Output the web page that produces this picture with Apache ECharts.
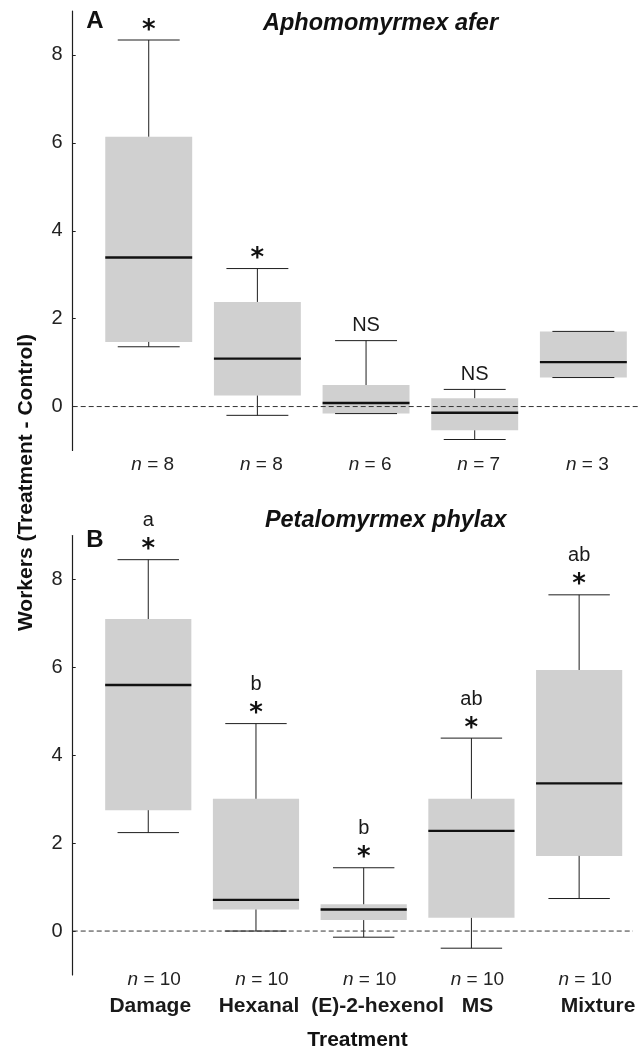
<!DOCTYPE html>
<html>
<head>
<meta charset="utf-8">
<script src="https://cdn.jsdelivr.net/npm/echarts@6/dist/echarts.min.js"></script>
<style>
  html, body { margin: 0; padding: 0; background: #fff; }
  #chart { width: 638px; height: 1054px; }
</style>
</head>
<body>
<div id="chart"></div>
<script>
// ---------- data ----------
const categories = ['Damage', 'Hexanal', '(E)-2-hexenol', 'MS', 'Mixture'];
const yTicks = [0, 2, 4, 6, 8];

// Panel A: Aphomomyrmex afer
const aLow  = [1.36, -0.20, -0.16, -0.75, 0.66];
const aQ1   = [1.47,  0.25, -0.16, -0.54, 0.66];
const aMed  = [3.39,  1.09,  0.08, -0.14, 1.01];
const aQ3   = [6.14,  2.38,  0.49,  0.19, 1.71];
const aHigh = [8.34,  3.14,  1.50,  0.39, 1.71];
const aSig  = ['*', '*', 'NS', 'NS', ''];
const aLetters = ['', '', '', '', ''];
const aN    = [8, 8, 6, 7, 3];

// Panel B: Petalomyrmex phylax
const bLow  = [2.24, 0.00, -0.14, -0.39, 0.74];
const bQ1   = [2.75, 0.49,  0.25,  0.30, 1.71];
const bMed  = [5.60, 0.71,  0.49,  2.28, 3.36];
const bQ3   = [7.10, 3.01,  0.61,  3.01, 5.94];
const bHigh = [8.45, 4.72,  1.44,  4.39, 7.65];
const bSig  = ['*', '*', '*', '*', '*'];
const bLetters = ['a', 'b', 'b', 'ab', 'ab'];
const bN    = [10, 10, 10, 10, 10];

// ---------- layout / style (not data) ----------
const FONT = '"Liberation Sans", Arial, Helvetica, sans-serif';
const gridLeft = 94.4, gridWidth = 543.3, gridH = 439.5;
const axisOffset = 21.7;
const labelShiftB = [4, 6, 28, 12, 38]; // rich padding to nudge category names

function boxSeries(idx, low, q1, med, q3, high, sig, letters) {
  return {
    type: 'custom',
    xAxisIndex: idx, yAxisIndex: idx,
    clip: false,
    z: 2,
    data: categories.map((c, i) => [i, low[i], q1[i], med[i], q3[i], high[i]]),
    encode: { x: 0, y: [1, 2, 3, 4, 5] },
    renderItem: function (params, api) {
      const i = api.value(0);
      const cx = api.coord([i, api.value(3)])[0];
      const band = api.size([1, 0])[0];
      const bw = band * 0.8, cw = band * 0.57;
      const yLow = api.coord([i, api.value(1)])[1];
      const yQ1 = api.coord([i, api.value(2)])[1];
      const yMed = api.coord([i, api.value(3)])[1];
      const yQ3 = api.coord([i, api.value(4)])[1];
      const yHigh = api.coord([i, api.value(5)])[1];
      const lineStyle = { stroke: '#1e1e1e', lineWidth: 1 };
      const children = [
        { type: 'rect', shape: { x: cx - bw / 2, y: yQ3, width: bw, height: yQ1 - yQ3 },
          style: { fill: '#d0d0d0' } },
        { type: 'line', shape: { x1: cx, y1: yQ3, x2: cx, y2: yHigh }, style: lineStyle },
        { type: 'line', shape: { x1: cx - cw / 2, y1: yHigh, x2: cx + cw / 2, y2: yHigh }, style: lineStyle },
        { type: 'line', shape: { x1: cx, y1: yQ1, x2: cx, y2: yLow }, style: lineStyle },
        { type: 'line', shape: { x1: cx - cw / 2, y1: yLow, x2: cx + cw / 2, y2: yLow }, style: lineStyle },
        { type: 'line', shape: { x1: cx - bw / 2, y1: yMed, x2: cx + bw / 2, y2: yMed },
          style: { stroke: '#111', lineWidth: 2.4 } }
      ];
      const s = sig[params.dataIndex];
      if (s === '*') {
        children.push({ type: 'text', x: cx, y: yHigh - 9.2,
          style: { text: '*', fill: '#111', font: 'bold 26px "DejaVu Sans"', align: 'center', verticalAlign: 'middle' } });
      } else if (s) {
        children.push({ type: 'text', x: cx, y: yHigh - 15.4,
          style: { text: s, fill: '#1a1a1a', font: '20px ' + FONT, align: 'center', verticalAlign: 'middle' } });
      }
      const l = letters[params.dataIndex];
      if (l) {
        children.push({ type: 'text', x: cx, y: yHigh - 39,
          style: { text: l, fill: '#1a1a1a', font: '20px ' + FONT, align: 'center', verticalAlign: 'middle' } });
      }
      return { type: 'group', children: children };
    }
  };
}

function zeroSeries(idx) {
  return {
    type: 'custom',
    xAxisIndex: idx, yAxisIndex: idx,
    clip: false,
    z: 5,
    data: [[0, 0]],
    renderItem: function (params, api) {
      const y = api.coord([0, 0])[1];
      const cs = params.coordSys;
      return { type: 'line',
        shape: { x1: cs.x - axisOffset, y1: y, x2: cs.x + cs.width, y2: y },
        style: { stroke: '#333', lineWidth: 1, lineDash: [5, 3] } };
    }
  };
}

function yAxisDef(idx) {
  return {
    type: 'value', gridIndex: idx, min: -1, max: 9, offset: axisOffset,
    axisLine: { show: true, lineStyle: { color: '#1e1e1e', width: 1.2 } },
    axisTick: { show: true, inside: true, length: 3, customValues: yTicks, lineStyle: { color: '#1e1e1e' } },
    axisLabel: { customValues: yTicks, margin: 10, fontSize: 20, color: '#222', fontFamily: FONT },
    splitLine: { show: false }
  };
}

const chart = echarts.init(document.getElementById('chart'), null, { renderer: 'canvas' });

chart.setOption({
  animation: false,
  backgroundColor: '#fff',
  grid: [
    { left: gridLeft, width: gridWidth, top: 11, height: gridH },
    { left: gridLeft, width: gridWidth, top: 535.5, height: gridH }
  ],
  xAxis: [
    {
      type: 'category', gridIndex: 0, data: categories, boundaryGap: true,
      axisLine: { show: false }, axisTick: { show: false },
      axisLabel: {
        interval: 0, margin: 4, color: '#222', fontFamily: FONT, fontSize: 19,
        formatter: function (v, i) { return '{n|n} = ' + aN[i]; },
        rich: { n: { fontStyle: 'italic', fontSize: 19, fontFamily: FONT, color: '#222', padding: [0, 0, 0, 8], lineHeight: 20 } },
        lineHeight: 20
      }
    },
    {
      type: 'category', gridIndex: 1, data: categories, boundaryGap: true,
      axisLine: { show: false }, axisTick: { show: false },
      axisLabel: {
        interval: 0, margin: -5.3, color: '#222', fontFamily: FONT, fontSize: 19,
        formatter: function (v, i) { return '{n|n}{e| = ' + bN[i] + '}\n{c' + i + '|' + v + '}'; },
        rich: {
          n: { fontStyle: 'italic', fontSize: 19, fontFamily: FONT, color: '#222', padding: [0, 0, 0, 12], lineHeight: 20 },
          e: { fontSize: 19, fontFamily: FONT, color: '#222', lineHeight: 20 },
          c0: { fontWeight: 'bold', fontSize: 21, fontFamily: FONT, color: '#1a1a1a', lineHeight: 32.2, padding: [0, 0, 0, labelShiftB[0]] },
          c1: { fontWeight: 'bold', fontSize: 21, fontFamily: FONT, color: '#1a1a1a', lineHeight: 32.2, padding: [0, 0, 0, labelShiftB[1]] },
          c2: { fontWeight: 'bold', fontSize: 21, fontFamily: FONT, color: '#1a1a1a', lineHeight: 32.2, padding: [0, 0, 0, labelShiftB[2]] },
          c3: { fontWeight: 'bold', fontSize: 21, fontFamily: FONT, color: '#1a1a1a', lineHeight: 32.2, padding: [0, 0, 0, labelShiftB[3]] },
          c4: { fontWeight: 'bold', fontSize: 21, fontFamily: FONT, color: '#1a1a1a', lineHeight: 32.2, padding: [0, 0, 0, labelShiftB[4]] }
        }
      }
    }
  ],
  yAxis: [yAxisDef(0), yAxisDef(1)],
  series: [
    boxSeries(0, aLow, aQ1, aMed, aQ3, aHigh, aSig, aLetters),
    zeroSeries(0),
    boxSeries(1, bLow, bQ1, bMed, bQ3, bHigh, bSig, bLetters),
    zeroSeries(1)
  ],
  graphic: [
    { type: 'text', x: 95, y: 21.7, style: { text: 'A', fill: '#111', font: 'bold 24px ' + FONT, align: 'center', verticalAlign: 'middle' } },
    { type: 'text', x: 95, y: 540, style: { text: 'B', fill: '#111', font: 'bold 24px ' + FONT, align: 'center', verticalAlign: 'middle' } },
    { type: 'text', x: 380.5, y: 23.3, style: { text: 'Aphomomyrmex afer', fill: '#111', font: 'italic bold 23.5px ' + FONT, align: 'center', verticalAlign: 'middle' } },
    { type: 'text', x: 385.7, y: 520.5, style: { text: 'Petalomyrmex phylax', fill: '#111', font: 'italic bold 23.5px ' + FONT, align: 'center', verticalAlign: 'middle' } },
    { type: 'text', x: 26, y: 482.5, rotation: Math.PI / 2, style: { text: 'Workers (Treatment - Control)', fill: '#111', font: 'bold 21px ' + FONT, align: 'center', verticalAlign: 'middle' } },
    { type: 'text', x: 357.5, y: 1040.5, style: { text: 'Treatment', fill: '#111', font: 'bold 21px ' + FONT, align: 'center', verticalAlign: 'middle' } }
  ]
});
</script>
</body>
</html>
